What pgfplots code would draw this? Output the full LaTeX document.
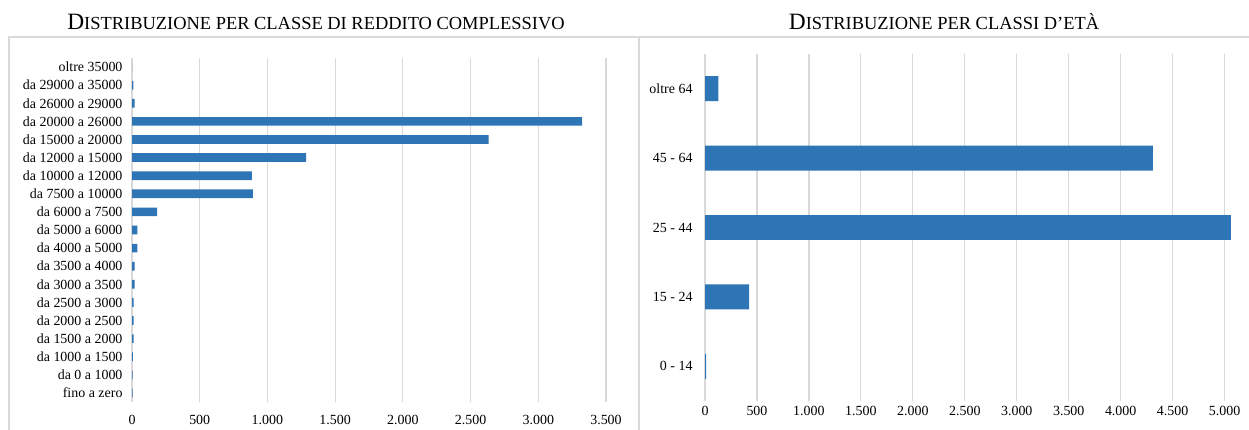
\documentclass[border=0pt]{standalone}
\usepackage{pgfplots}
\pgfplotsset{compat=1.18}
\usepackage{fontspec}
\setmainfont{Liberation Serif}

\definecolor{barblue}{HTML}{2E75B6}
\definecolor{gridgray}{HTML}{D9D9D9}

\pgfplotsset{
  panel/.style={
    scale only axis,
    xbar,
    xmin=0,
    axis line style={draw=none},
    major tick length=0pt,
    xmajorgrids=true,
    ymajorgrids=false,
    grid style={gridgray, line width=1.2bp},
    tick label style={font=\fontsize{14}{15}\selectfont, black},
    /pgf/number format/1000 sep={.},
    /pgf/number format/assume math mode=true,
    clip=false,
  },
}

\begin{document}
\begin{tikzpicture}

% reddito complessivo
\begin{axis}[
    panel,
    at={(132bp,-402bp)}, anchor=south west,
    width=474bp, height=344bp,
    xmax=3500,
    xtick={0,500,...,3500},
    ymin=-0.5, ymax=18.5,
    ytick={0,...,18},
    yticklabels={fino a zero, da 0 a 1000, da 1000 a 1500, da 1500 a 2000,
      da 2000 a 2500, da 2500 a 3000, da 3000 a 3500, da 3500 a 4000,
      da 4000 a 5000, da 5000 a 6000, da 6000 a 7500, da 7500 a 10000,
      da 10000 a 12000, da 12000 a 15000, da 15000 a 20000,
      da 20000 a 26000, da 26000 a 29000, da 29000 a 35000, oltre 35000},
    yticklabel style={xshift=-6bp},
    xticklabel style={yshift=-10bp},
    bar width=0.48,
]
\addplot[fill=barblue, draw=none] coordinates {
    (5,0) (5,1) (7,2) (12,3) (12,4) (12,5) (20,6) (20,7) (40,8) (40,9)
    (185,10) (893,11) (886,12) (1285,13) (2634,14) (3323,15) (20,16) (10,17) (0,18)
};
\end{axis}

% classi d'eta
\begin{axis}[
    panel,
    at={(705bp,-401bp)}, anchor=south west,
    width=530bp, height=347bp,
    xmax=5100,
    xtick={0,500,...,5000},
    ymin=-0.5, ymax=4.5,
    ytick={0,...,4},
    yticklabels={0 - 14, 15 - 24, 25 - 44, 45 - 64, oltre 64},
    yticklabel style={xshift=-9bp},
    xticklabel style={yshift=-2bp},
    bar width=0.36,
]
\addplot[fill=barblue, draw=none] coordinates {
    (10,0) (425,1) (5060,2) (4310,3) (129,4)
};
\end{axis}

% cornici e titoli
\draw[gridgray, line width=1.2bp] (9bp,-445bp) -- (9bp,-37bp) -- (639bp,-37bp) -- (639bp,-445bp);
\draw[gridgray, line width=1.2bp] (639bp,-37bp) -- (1260bp,-37bp);

\node[anchor=base] at (316bp,-29bp)
  {{\fontsize{23.5}{24}\selectfont D}{\fontsize{18.5}{19}\selectfont ISTRIBUZIONE PER CLASSE DI REDDITO COMPLESSIVO}};
\node[anchor=base] at (944bp,-29bp)
  {{\fontsize{23.5}{24}\selectfont D}{\fontsize{18.5}{19}\selectfont ISTRIBUZIONE PER CLASSI D’ETÀ}};

\pgfresetboundingbox
\path[use as bounding box] (0,0) rectangle (1249bp,-430bp);
\end{tikzpicture}
\end{document}
